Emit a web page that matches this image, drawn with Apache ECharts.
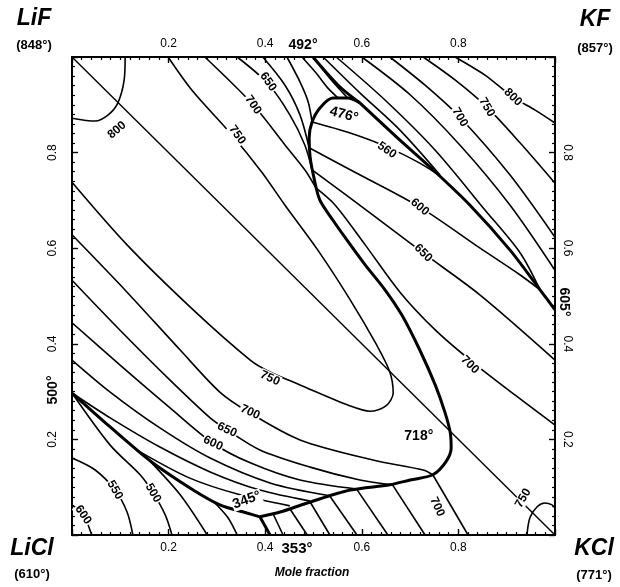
<!DOCTYPE html>
<html><head><meta charset="utf-8">
<script src="https://cdn.jsdelivr.net/npm/echarts@6/dist/echarts.min.js"></script>
<style>html,body{margin:0;padding:0;background:#fff}#c{width:620px;height:587px}</style>
</head><body><div id="c"></div>
<script>
// ---- axis ticks (mole fraction) ----
const tickValues = [0.2, 0.4, 0.6, 0.8];

// ---- curves: [x = mole fraction K (KCl/KF side), y = mole fraction F (LiF/KF side)] ----
const stableDiagonal = [[0, 1], [1, 0]];

// phase-field boundaries (bold)
const bLiF_KF = [[0.499, 1], [0.551, 0.941], [0.596, 0.904]];
const bLiF_KF_inner = [[0.499, 1], [0.540, 0.948], [0.571, 0.914]];
const bKF_KCl = [[0.596, 0.904], [0.679, 0.826], [0.741, 0.770], [0.824, 0.690], [0.907, 0.596], [0.969, 0.513], [1, 0.471]];
const bLiF_KCl = [[0.596, 0.904], [0.571, 0.914], [0.540, 0.914], [0.513, 0.893], [0.497, 0.864], [0.491, 0.831], [0.493, 0.791], [0.501, 0.747], [0.513, 0.701], [0.540, 0.659], [0.565, 0.623], [0.607, 0.565], [0.648, 0.513], [0.683, 0.460], [0.720, 0.387], [0.752, 0.314], [0.772, 0.257], [0.783, 0.215], [0.785, 0.182], [0.774, 0.153], [0.747, 0.126], [0.700, 0.115], [0.658, 0.105], [0.576, 0.094], [0.487, 0.067], [0.431, 0.048], [0.389, 0.038]];
const bLiF_LiCl = [[0, 0.297], [0.079, 0.226], [0.147, 0.167], [0.182, 0.140], [0.251, 0.094], [0.306, 0.063], [0.362, 0.046], [0.389, 0.038]];
const bLiCl_KCl = [[0.389, 0.038], [0.410, 0]];

// isotherms near corners
const iso800LiF = [[0.11, 1], [0.108, 0.952], [0.095, 0.904], [0.075, 0.879], [0.048, 0.866], [0, 0.872]];
const iso750KClCorner = [[0.942, 0], [0.948, 0.036], [0.963, 0.059], [0.979, 0.067], [0.994, 0.063], [1, 0.056]];
// 750 isotherm loop in LiF field
const iso750LiF = [[0.199, 1], [0.248, 0.931], [0.331, 0.837], [0.393, 0.759], [0.441, 0.690], [0.509, 0.596], [0.576, 0.492], [0.631, 0.397], [0.658, 0.341], [0.665, 0.297], [0.650, 0.270], [0.617, 0.259], [0.576, 0.270], [0.472, 0.314], [0.410, 0.341], [0.369, 0.366], [0.251, 0.471], [0.114, 0.607], [0, 0.738]];

// KF field
const iso800KF = [[0.793, 1], [0.855, 0.962], [0.913, 0.916], [0.959, 0.889], [1, 0.862]];
const iso750KF = [[0.727, 1], [0.793, 0.952], [0.859, 0.895], [0.928, 0.820], [1, 0.736]];
const iso700KF = [[0.658, 1], [0.731, 0.941], [0.803, 0.874], [0.907, 0.753], [1, 0.623]];
const iso650KF = [[0.600, 1], [0.700, 0.921], [0.803, 0.816], [0.907, 0.690], [1, 0.554]];
const iso600KF = [[0.547, 1], [0.648, 0.910], [0.752, 0.805], [0.855, 0.680], [0.928, 0.590], [0.969, 0.513]];
const iso550KF = [[0.520, 1], [0.596, 0.925], [0.679, 0.847], [0.762, 0.753]];

// KCl field, upper part
const iso550KCl = [[0.497, 0.864], [0.576, 0.841], [0.652, 0.812], [0.720, 0.778], [0.762, 0.751]];
const iso600KCl = [[0.491, 0.810], [0.576, 0.764], [0.720, 0.686], [0.845, 0.600], [0.928, 0.544], [0.969, 0.513]];
const iso650KCl = [[0.497, 0.764], [0.617, 0.674], [0.727, 0.590], [0.845, 0.502], [1, 0.366]];
const iso700KCl = [[0.505, 0.726], [0.545, 0.690], [0.607, 0.607], [0.679, 0.508], [0.752, 0.429], [0.824, 0.366], [0.917, 0.293], [1, 0.230]];

// LiF field, upper part
const iso700LiFTop = [[0.275, 1], [0.375, 0.900], [0.441, 0.816], [0.482, 0.764], [0.505, 0.726]];
const iso650LiFTop = [[0.342, 1], [0.406, 0.944], [0.451, 0.879], [0.482, 0.816], [0.497, 0.764]];
const iso600LiFTop = [[0.395, 1], [0.441, 0.941], [0.472, 0.879], [0.491, 0.810]];
const iso550LiFTop = [[0.445, 1], [0.472, 0.948], [0.489, 0.906], [0.497, 0.864]];
const iso500LiFTop = [[0.476, 1], [0.505, 0.967], [0.528, 0.937], [0.551, 0.914]];

// LiF field, lower part
const iso700LiFLow = [[0, 0.628], [0.114, 0.508], [0.224, 0.387], [0.306, 0.299], [0.369, 0.255], [0.472, 0.199], [0.623, 0.157], [0.727, 0.136], [0.747, 0.126]];
const iso650LiFLow = [[0, 0.533], [0.099, 0.429], [0.203, 0.324], [0.286, 0.245], [0.321, 0.220], [0.389, 0.178], [0.493, 0.142], [0.596, 0.115], [0.663, 0.105]];
const iso600LiFLow = [[0, 0.444], [0.099, 0.356], [0.203, 0.266], [0.292, 0.192], [0.369, 0.151], [0.472, 0.115], [0.590, 0.096]];
const iso550LiFLow = [[0, 0.366], [0.079, 0.299], [0.182, 0.224], [0.286, 0.161], [0.410, 0.109], [0.534, 0.082]];
const iso500LiFLow = [[0, 0.297], [0.079, 0.245], [0.182, 0.184], [0.286, 0.132], [0.389, 0.094], [0.493, 0.071]];
const iso450LiFLow = [[0.141, 0.174], [0.244, 0.119], [0.348, 0.084], [0.451, 0.061]];

// LiCl field
const iso600LiCl = [[0, 0.063], [0.023, 0.042], [0.041, 0]];
const iso550LiCl = [[0, 0.161], [0.048, 0.136], [0.089, 0.094], [0.114, 0.048], [0.126, 0]];
const iso500LiCl = [[0, 0.297], [0.079, 0.188], [0.141, 0.126], [0.168, 0.088], [0.193, 0.042], [0.207, 0]];
const iso450LiCl = [[0.161, 0.155], [0.224, 0.084], [0.280, 0]];
const iso400LiCl = [[0.296, 0.067], [0.323, 0.036], [0.342, 0]];

// KCl field, lower part
const iso400KClLow = [[0.416, 0.045], [0.437, 0]];
const iso450KClLow = [[0.451, 0.055], [0.487, 0]];
const iso500KClLow = [[0.493, 0.069], [0.534, 0]];
const iso550KClLow = [[0.534, 0.081], [0.590, 0]];
const iso600KClLow = [[0.590, 0.095], [0.654, 0]];
const iso650KClLow = [[0.663, 0.106], [0.731, 0]];
const iso700KClLow = [[0.747, 0.126], [0.820, 0]];

// isotherm labels [x, y, text]
const isoLabels = [
  [0.093, 0.847, '800'], [0.342, 0.837, '750'], [0.375, 0.900, '700'], [0.406, 0.948, '650'],
  [0.652, 0.805, '560'], [0.720, 0.686, '600'], [0.727, 0.590, '650'],
  [0.803, 0.874, '700'], [0.859, 0.895, '750'], [0.913, 0.916, '800'],
  [0.824, 0.356, '700'],
  [0.410, 0.328, '750'], [0.369, 0.257, '700'], [0.321, 0.220, '650'], [0.292, 0.192, '600'],
  [0.023, 0.042, '600'], [0.089, 0.094, '550'], [0.168, 0.088, '500'],
  [0.756, 0.059, '700'], [0.934, 0.077, '750']
];
// invariant points inside the square [x, y, text]
const pointLabels = [[0.563, 0.879, '476°'], [0.362, 0.073, '345°'], [0.718, 0.207, '718°']];

// ---- styles & rendering ----
const labelAngles = [40, -55, -55, -55, -35, -40, -45, -60, -60, -45, -45, -25, -25, -25, -25, -55, -60, -60, -65, 60];
const pointAngles = [-15, 20, 0];
const FONT = '"Liberation Sans", Arial, Helvetica, sans-serif';
const thin = { color: '#000', width: 1.6 };
const bold = { color: '#000', width: 3 };

const boldCurves = [bLiF_KF, bKF_KCl, bLiF_KCl, bLiF_LiCl, bLiCl_KCl];
const thinCurves = [bLiF_KF_inner, iso800LiF, iso750KClCorner, iso750LiF,
  iso800KF, iso750KF, iso700KF, iso650KF, iso600KF, iso550KF,
  iso550KCl, iso600KCl, iso650KCl, iso700KCl,
  iso700LiFTop, iso650LiFTop, iso600LiFTop, iso550LiFTop, iso500LiFTop,
  iso700LiFLow, iso650LiFLow, iso600LiFLow, iso550LiFLow, iso500LiFLow, iso450LiFLow,
  iso600LiCl, iso550LiCl, iso500LiCl, iso450LiCl, iso400LiCl,
  iso400KClLow, iso450KClLow, iso500KClLow, iso550KClLow, iso600KClLow, iso650KClLow, iso700KClLow];

function lineSeries(data, style, smooth) {
  return { type: 'line', data: data, symbol: 'none', showSymbol: false, smooth: smooth,
    lineStyle: style, z: 2, silent: true, animation: false };
}
const series = [];
series.push(lineSeries(stableDiagonal, { color: '#000', width: 1.4 }, false));
thinCurves.forEach(c => series.push(lineSeries(c, thin, 0.3)));
boldCurves.forEach(c => series.push(lineSeries(c, bold, 0.3)));

function labelSeries(list, angles, size, z) {
  return {
    type: 'scatter', symbolSize: 0, z: z, silent: true, animation: false,
    itemStyle: { opacity: 1, color: '#000' },
    label: { show: true, position: 'inside', fontSize: size, fontWeight: 'bold', fontFamily: FONT,
      color: '#000', opacity: 1, textBorderWidth: 0, backgroundColor: '#fff', padding: [0, 1] },
    data: list.map((d, i) => ({ value: [d[0], d[1]], label: { formatter: d[2], rotate: angles[i] } }))
  };
}
series.push(labelSeries(isoLabels, labelAngles, 12, 10));
series.push(labelSeries(pointLabels, pointAngles, 14, 11));

const fmt = v => tickValues.some(t => Math.abs(t - v) < 1e-6) ? v.toFixed(1) : '';
function axis(pos, rotate, margin) {
  return {
    type: 'value', min: 0, max: 1, interval: 0.2, position: pos,
    axisLine: { show: true, onZero: false, lineStyle: { color: '#000', width: 2 } },
    axisTick: { show: true, inside: true, length: 6, lineStyle: { color: '#000', width: 1.4 } },
    minorTick: { show: true, splitNumber: 10, length: 3, lineStyle: { color: '#000', width: 1.2 } },
    splitLine: { show: false }, minorSplitLine: { show: false },
    axisLabel: { formatter: fmt, color: '#000', fontSize: 12, fontFamily: FONT, margin: margin, rotate: rotate }
  };
}

function txt(text, x, y, size, opts) {
  opts = opts || {};
  return { type: 'text', x: x, y: y, rotation: opts.rot || 0, z: 100,
    style: { text: text, fontSize: size, fontWeight: 'bold', fontStyle: opts.italic ? 'italic' : 'normal',
      fontFamily: FONT, fill: '#000', align: 'center', verticalAlign: 'middle' } };
}

const chart = echarts.init(document.getElementById('c'), null, { renderer: 'canvas' });
chart.setOption({
  animation: false,
  backgroundColor: '#fff',
  grid: { left: 72, top: 57, width: 483, height: 478, containLabel: false },
  xAxis: [axis('bottom', 0, 7), axis('top', 0, 7)],
  yAxis: [axis('left', 90, 13), axis('right', -90, 6)],
  series: series,
  graphic: [
    txt('LiF', 34, 19, 23, { italic: true }), txt('(848°)', 34, 45, 13),
    txt('KF', 595, 20, 23, { italic: true }), txt('(857°)', 595, 48, 13),
    txt('LiCl', 32, 549, 23, { italic: true }), txt('(610°)', 32, 574, 13),
    txt('KCl', 594, 549, 23, { italic: true }), txt('(771°)', 594, 575, 13),
    txt('Mole fraction', 312, 573, 12, { italic: true }),
    txt('492°', 303, 45, 14), txt('353°', 297, 549, 15),
    txt('500°', 53, 390, 14, { rot: Math.PI / 2 }), txt('605°', 564, 302, 14, { rot: -Math.PI / 2 })
  ]
});
</script></body></html>
